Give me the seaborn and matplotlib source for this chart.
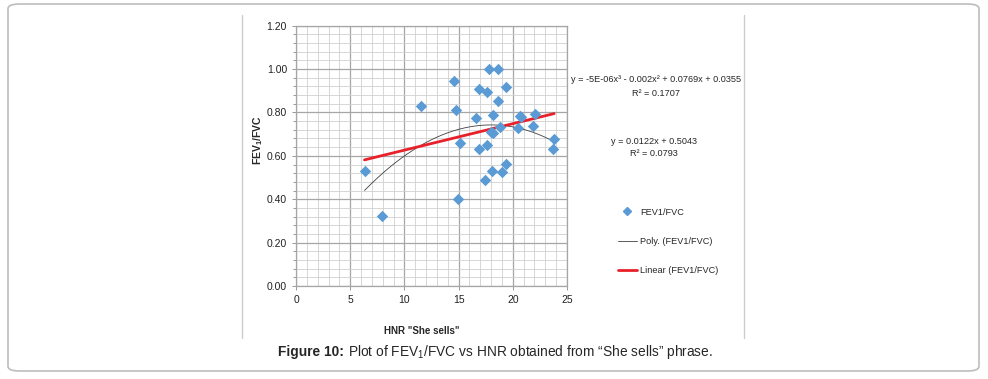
import numpy as np
import pandas as pd
import matplotlib
matplotlib.use("Agg")
import matplotlib.pyplot as plt
from matplotlib.patches import FancyBboxPatch
from matplotlib.lines import Line2D
from matplotlib.ticker import MultipleLocator
import seaborn as sns

# valores
hnr = [6.32, 7.90, 11.56, 14.57, 14.73, 15.16, 14.98, 16.59, 16.87, 16.90,
       17.42, 17.61, 17.64, 17.80, 17.95, 18.05, 18.14, 18.20, 18.60, 18.63,
       18.85, 18.98, 19.35, 19.35, 20.47, 20.70, 20.80, 21.86, 22.08, 23.81,
       23.75]
fev_fvc = [0.532, 0.324, 0.831, 0.946, 0.811, 0.659, 0.400, 0.773, 0.908, 0.630,
           0.490, 0.896, 0.651, 1.000, 0.711, 0.530, 0.787, 0.704, 0.853, 1.000,
           0.731, 0.526, 0.916, 0.564, 0.730, 0.784, 0.781, 0.739, 0.791, 0.676,
           0.630]

# coeficientes de las lineas de tendencia (del grafico)
poly_coef = [-5e-06, -0.002, 0.0769, 0.0355]
lin_coef = [0.0122, 0.5043]

poly_eq = "y = -5E-06x³ - 0.002x² + 0.0769x + 0.0355"
poly_r2 = "R² = 0.1707"
lin_eq = "y = 0.0122x + 0.5043"
lin_r2 = "R² = 0.0793"

sns.set_style("white")
plt.rcParams['font.family'] = ['Liberation Sans', 'DejaVu Sans']
plt.rcParams['mathtext.fontset'] = 'custom'
plt.rcParams['mathtext.rm'] = 'Liberation Sans'
plt.rcParams['mathtext.bf'] = 'Liberation Sans:bold'

df = pd.DataFrame({'HNR': hnr, 'FEV1/FVC': fev_fvc})
xs = np.linspace(min(hnr), max(hnr), 200)
fits = pd.DataFrame({
    'x': xs,
    'poly': np.polyval(poly_coef, xs),
    'lin': np.polyval(lin_coef, xs),
})

fig = plt.figure(figsize=(9.88, 3.79), dpi=100)
ax = fig.add_axes([0.2996, 0.2454, 0.2743, 0.6868])

sns.lineplot(data=fits, x='x', y='poly', ax=ax, color='#404040', lw=0.6, zorder=3)
sns.lineplot(data=fits, x='x', y='lin', ax=ax, color='#E8202A', lw=2.0, zorder=4)
sns.scatterplot(data=df, x='HNR', y='FEV1/FVC', ax=ax, marker='D', s=34,
                color='#5B9BD5', edgecolor='#5B9BD5', linewidth=0, zorder=5)

ax.set_xlim(0, 25)
ax.set_ylim(0, 1.2)
ax.xaxis.set_major_locator(MultipleLocator(5))
ax.xaxis.set_minor_locator(MultipleLocator(1))
ax.yaxis.set_major_locator(MultipleLocator(0.2))
ax.yaxis.set_minor_locator(MultipleLocator(0.04))
ax.yaxis.set_major_formatter(matplotlib.ticker.FormatStrFormatter('%.2f'))
ax.grid(True, which='major', color='#a6a6a6', lw=0.9)
ax.grid(True, which='minor', color='#d0d0d0', lw=0.6)
for s in ax.spines.values():
    s.set_color('#a6a6a6')
    s.set_linewidth(0.9)
ax.tick_params(which='both', labelsize=7.5, colors='#888888', labelcolor='#222222',
               direction='out', length=3, width=0.6, left=True, bottom=True)
ax.tick_params(axis='x', which='minor', length=0)
ax.tick_params(axis='y', which='minor', length=2)
ax.set_xlabel('')
ax.set_ylabel('')

fig.text(258 / 988, 1 - 140 / 379, r"FEV$_\mathbf{1}$/FVC", rotation=90, fontsize=7.5,
         fontweight='bold', ha='center', va='center')
fig.text(422 / 988, 1 - 331 / 379, 'HNR "She sells"', fontsize=7,
         fontweight='bold', ha='center', va='center')

# ecuaciones
eq_fs = 6.6
fig.text(656 / 988, 1 - 80 / 379, poly_eq, fontsize=eq_fs, ha='center', va='center')
fig.text(656 / 988, 1 - 93 / 379, poly_r2, fontsize=eq_fs, ha='center', va='center')
fig.text(654 / 988, 1 - 141 / 379, lin_eq, fontsize=eq_fs, ha='center', va='center')
fig.text(654 / 988, 1 - 154 / 379, lin_r2, fontsize=eq_fs, ha='center', va='center')

# leyenda
handles = [
    Line2D([], [], marker='D', ls='', color='#5B9BD5', markersize=4.5),
    Line2D([], [], color='#404040', lw=0.6),
    Line2D([], [], color='#E8202A', lw=2.0),
]
labels = ['FEV1/FVC', 'Poly. (FEV1/FVC)', 'Linear (FEV1/FVC)']
fig.legend(handles, labels, loc='upper left', bbox_to_anchor=(613 / 988, 1 - 203 / 379),
           frameon=False, fontsize=eq_fs, labelspacing=2.2, handlelength=2.1,
           handletextpad=0.35, borderpad=0)

# marco y lineas de la figura
fig.patches.append(FancyBboxPatch((8 / 988, 1 - 371 / 379), 971 / 988, 367 / 379,
                                  boxstyle='round,pad=0,rounding_size=0.012',
                                  transform=fig.transFigure, fill=False,
                                  edgecolor='#bdbdbd', lw=1.2))
for xv in (242, 744):
    fig.lines.append(Line2D([xv / 988, xv / 988], [1 - 15 / 379, 1 - 338 / 379],
                            transform=fig.transFigure, color='#cccccc', lw=1.0))

# pie de figura: parte en negrita y resto a continuacion
fig.canvas.draw()
renderer = fig.canvas.get_renderer()
cap_y = 1 - 352 / 379
t1 = fig.text(278 / 988, cap_y, "Figure 10: ", fontsize=9.9, fontweight='bold',
              ha='left', va='center')
bb = t1.get_window_extent(renderer=renderer)
fig.text(bb.x1 / fig.bbox.width, cap_y,
         "Plot of FEV$_1$/FVC vs HNR obtained from \u201cShe sells\u201d phrase.",
         fontsize=9.9, ha='left', va='center')

fig.savefig('out.png', dpi=100)
